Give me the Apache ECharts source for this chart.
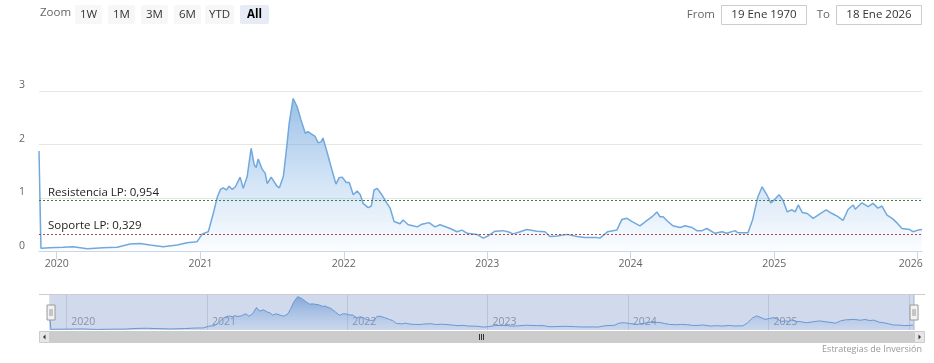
<!DOCTYPE html>
<html>
<head>
<meta charset="utf-8">
<script src="https://cdn.jsdelivr.net/npm/echarts@6/dist/echarts.min.js"></script>
<style>
html,body{margin:0;padding:0;background:#fff;}
#chart{width:934px;height:363px;}
</style>
</head>
<body>
<div id="chart"></div>
<script>
// ---- Data ----
const dates = [
'2019-11-17','2019-11-22','2019-12-15','2020-01-17','2020-02-12','2020-03-19','2020-04-28','2020-06-03','2020-07-06','2020-07-31',
'2020-08-26','2020-09-28','2020-11-03','2020-11-28','2020-12-23','2021-01-06','2021-01-21','2021-02-03','2021-02-13','2021-02-21',
'2021-02-28','2021-03-08','2021-03-15','2021-03-23','2021-03-31','2021-04-05','2021-04-12','2021-04-20','2021-04-30','2021-05-10',
'2021-05-18','2021-05-23','2021-05-28','2021-06-07','2021-06-15','2021-06-20','2021-06-30','2021-07-05','2021-07-15','2021-07-21',
'2021-07-31','2021-08-07','2021-08-15','2021-08-25','2021-08-30','2021-09-04','2021-09-14','2021-09-25','2021-10-02','2021-10-10',
'2021-10-20','2021-10-28','2021-11-04','2021-11-09','2021-11-20','2021-12-02','2021-12-12','2021-12-20','2021-12-28','2022-01-07',
'2022-01-15','2022-01-25','2022-02-04','2022-02-12','2022-02-19','2022-03-04','2022-03-12','2022-03-19','2022-03-27','2022-04-08',
'2022-04-21','2022-04-29','2022-05-09','2022-05-24','2022-06-01','2022-06-14','2022-06-26','2022-07-07','2022-07-19','2022-08-06',
'2022-08-21','2022-09-03','2022-09-29','2022-10-16','2022-10-29','2022-11-11','2022-12-06','2022-12-22','2023-01-03','2023-01-21',
'2023-02-10','2023-02-23','2023-03-08','2023-03-26','2023-04-12','2023-05-08','2023-05-28','2023-06-10','2023-06-28','2023-07-23',
'2023-08-18','2023-09-07','2023-10-07','2023-10-15','2023-11-04','2023-11-27','2023-12-10','2023-12-23','2024-01-05','2024-01-25',
'2024-02-12','2024-02-25','2024-03-08','2024-03-16','2024-03-24','2024-04-05','2024-04-18','2024-05-06','2024-05-19','2024-06-05',
'2024-06-18','2024-07-01','2024-07-13','2024-08-03','2024-08-21','2024-09-02','2024-09-23','2024-09-30','2024-10-26','2024-11-07',
'2024-11-20','2024-12-01','2024-12-13','2024-12-23','2025-01-03','2025-01-13','2025-01-23','2025-02-03','2025-02-15','2025-02-23',
'2025-03-03','2025-03-13','2025-03-26','2025-04-10','2025-04-28','2025-05-13','2025-05-28','2025-06-10','2025-06-25','2025-07-08',
'2025-07-21','2025-07-26','2025-08-12','2025-08-28','2025-09-09','2025-09-22','2025-10-02','2025-10-15','2025-10-28','2025-11-10',
'2025-11-22','2025-12-12','2025-12-20','2026-01-02','2026-01-12'
];
const values = [
1.88,0.06,0.07,0.08,0.09,0.05,0.07,0.08,0.14,0.15,
0.12,0.09,0.12,0.165,0.18,0.33,0.37,0.72,1.02,1.16,
1.19,1.15,1.22,1.16,1.21,1.24,1.39,1.18,1.40,1.93,
1.62,1.57,1.73,1.54,1.46,1.27,1.39,1.37,1.22,1.19,
1.40,1.84,2.40,2.86,2.89,2.71,2.46,2.21,2.24,2.20,
2.15,2.03,2.05,2.12,1.84,1.52,1.26,1.38,1.39,1.29,
1.29,1.06,1.13,1.06,0.90,0.82,0.85,1.15,1.18,1.06,
0.90,0.81,0.56,0.52,0.59,0.50,0.48,0.46,0.51,0.54,
0.46,0.50,0.43,0.37,0.40,0.34,0.32,0.25,0.29,0.38,
0.39,0.37,0.33,0.37,0.41,0.38,0.37,0.28,0.29,0.32,
0.28,0.26,0.26,0.25,0.37,0.40,0.60,0.62,0.56,0.48,
0.58,0.65,0.74,0.65,0.65,0.56,0.48,0.45,0.48,0.45,
0.39,0.39,0.43,0.34,0.37,0.34,0.39,0.35,0.35,0.60,
1.02,1.21,1.06,0.91,0.98,1.06,0.96,0.74,0.78,0.74,
0.87,0.73,0.71,0.62,0.71,0.78,0.71,0.66,0.58,0.79,
0.87,0.79,0.91,0.84,0.90,0.81,0.85,0.68,0.62,0.53,
0.43,0.41,0.37,0.40,0.41
];
const resistance = 0.954;
const support = 0.329;
const resistanceLabel = 'Resistencia LP: 0,954';
const supportLabel = 'Soporte LP: 0,329';
const yTicks = [0, 1, 2, 3];
const zoomButtons = ['1W', '1M', '3M', '6M', 'YTD', 'All'];
const fromText = '19 Ene 1970';
const toText = '18 Ene 2026';
const creditText = 'Estrategias de Inversión';

// ---- Build ----
function toTs(s) { const p = s.split('-').map(Number); return new Date(p[0], p[1] - 1, p[2]).getTime(); }
const seriesData = dates.map((d, i) => [toTs(d), values[i]]);
const xMin = toTs(dates[0]);
const xMax = toTs(dates[dates.length - 1]);
const FONT = "'Open Sans', sans-serif";
const YEAR = 365 * 24 * 3600 * 1000;

const btnX = [75, 108, 141, 174, 205, 240];
const btnW = [27, 27, 27, 27, 29, 29];
const graphics = [];
graphics.push({ type: 'text', left: 40, top: 7, style: { text: 'Zoom', fill: '#666666', font: '11.5px ' + FONT } });
zoomButtons.forEach((b, i) => {
  const sel = b === 'All';
  graphics.push({ type: 'rect', shape: { x: btnX[i], y: 5, width: btnW[i], height: 19, r: 2 }, style: { fill: sel ? '#e6ebf5' : '#f7f7f7' } });
  graphics.push({ type: 'text', style: { x: btnX[i] + btnW[i] / 2, y: 14.5, text: b, align: 'center', verticalAlign: 'middle', fill: sel ? '#000000' : '#333333', font: (sel ? 'bold ' : '') + '11.5px ' + FONT } });
});
graphics.push({ type: 'text', style: { x: 715, y: 15, text: 'From', align: 'right', verticalAlign: 'middle', fill: '#666666', font: '11.5px ' + FONT } });
graphics.push({ type: 'rect', shape: { x: 721.5, y: 5.5, width: 85, height: 19 }, style: { fill: '#ffffff', stroke: '#cccccc', lineWidth: 1 } });
graphics.push({ type: 'text', style: { x: 764, y: 15, text: fromText, align: 'center', verticalAlign: 'middle', fill: '#333333', font: '11.5px ' + FONT } });
graphics.push({ type: 'text', style: { x: 830, y: 15, text: 'To', align: 'right', verticalAlign: 'middle', fill: '#666666', font: '11.5px ' + FONT } });
graphics.push({ type: 'rect', shape: { x: 836.5, y: 5.5, width: 85, height: 19 }, style: { fill: '#ffffff', stroke: '#cccccc', lineWidth: 1 } });
graphics.push({ type: 'text', style: { x: 879, y: 15, text: toText, align: 'center', verticalAlign: 'middle', fill: '#333333', font: '11.5px ' + FONT } });
// scrollbar
graphics.push({ type: 'rect', shape: { x: 39, y: 331, width: 886, height: 12 }, style: { fill: '#f2f2f2' } });
graphics.push({ type: 'rect', shape: { x: 50, y: 331, width: 864, height: 12 }, style: { fill: '#cccccc' } });
graphics.push({ type: 'rect', shape: { x: 39.5, y: 331.5, width: 10, height: 11 }, style: { fill: '#e6e6e6', stroke: '#cccccc' } });
graphics.push({ type: 'rect', shape: { x: 914.5, y: 331.5, width: 10, height: 11 }, style: { fill: '#e6e6e6', stroke: '#cccccc' } });
graphics.push({ type: 'polygon', shape: { points: [[45.5, 334.5], [45.5, 339.5], [43, 337]] }, style: { fill: '#333333' } });
graphics.push({ type: 'polygon', shape: { points: [[918.5, 334.5], [918.5, 339.5], [921, 337]] }, style: { fill: '#333333' } });
[479.5, 481.5, 483.5].forEach(x => graphics.push({ type: 'line', shape: { x1: x, y1: 334, x2: x, y2: 340 }, style: { stroke: '#333333', lineWidth: 1 } }));
// navigator outline
graphics.push({ type: 'line', shape: { x1: 39, y1: 294.5, x2: 925, y2: 294.5 }, style: { stroke: '#cccccc', lineWidth: 1 } });
graphics.push({ type: 'text', style: { x: 922, y: 349, text: creditText, align: 'right', verticalAlign: 'middle', fill: '#999999', font: '9px ' + FONT } });

const option = {
  animation: false,
  textStyle: { fontFamily: FONT },
  grid: [
    { left: 39, right: 12, top: 91, bottom: 111.5 },
    { left: 49, right: 21, top: 295, height: 35 }
  ],
  xAxis: [
    {
      type: 'time', gridIndex: 0, min: xMin, max: xMax,
      minInterval: YEAR, maxInterval: YEAR * 1.01,
      axisLine: { lineStyle: { color: '#ccd6eb' } },
      axisTick: { show: true, length: 8, lineStyle: { color: '#ccd6eb' } },
      splitLine: { show: false },
      axisLabel: {
        color: '#666666', fontSize: 10.5, margin: 7, hideOverlap: false,
        formatter: function (v) { const y = new Date(v).getFullYear(); return y === 2026 ? '{r|' + y + '}' : String(y); },
        rich: { r: { color: '#666666', fontSize: 10.5, padding: [0, 14, 0, 0] } }
      }
    },
    {
      type: 'time', gridIndex: 1, min: xMin, max: xMax,
      minInterval: YEAR, maxInterval: YEAR * 1.01,
      axisLine: { show: false }, axisTick: { show: false },
      splitLine: { show: true, lineStyle: { color: '#e0e0e0' } },
      axisLabel: {
        inside: true, color: '#999999', fontSize: 10.5, align: 'left', margin: 2, padding: [0, 0, 0, 5],
        formatter: function (v) { const y = new Date(v).getFullYear(); return y === 2026 ? '' : String(y); }
      }
    }
  ],
  yAxis: [
    {
      type: 'value', gridIndex: 0, min: yTicks[0], max: yTicks[yTicks.length - 1], interval: 1,
      axisLine: { show: false }, axisTick: { show: false },
      splitLine: { lineStyle: { color: '#e6e6e6' } },
      axisLabel: { color: '#666666', fontSize: 10.5, margin: 14, verticalAlign: 'bottom' }
    },
    { type: 'value', gridIndex: 1, min: 0, max: 3, show: false, splitLine: { show: false } }
  ],
  dataZoom: [{
    type: 'slider', xAxisIndex: 1, filterMode: 'none', start: 0, end: 100,
    left: 49, right: 20, top: 295, height: 35,
    showDataShadow: false, showDetail: false, brushSelect: false, moveHandleSize: 0,
    backgroundColor: 'rgba(0,0,0,0)', borderColor: 'rgba(0,0,0,0)',
    fillerColor: 'rgba(102,133,194,0.3)',
    handleIcon: 'path://M0,0 L8,0 L8,15 L0,15 Z M3,4 L3,11 M5,4 L5,11',
    handleSize: 15,
    handleStyle: { color: '#f2f2f2', borderColor: '#999999', borderWidth: 1 },
    emphasis: { handleStyle: { color: '#f2f2f2', borderColor: '#999999' } }
  }],
  series: [
    {
      type: 'line', xAxisIndex: 0, yAxisIndex: 0, data: seriesData,
      symbol: 'none', smooth: false,
      lineStyle: { color: '#72a9dd', width: 1.5 },
      itemStyle: { color: '#72a9dd' },
      areaStyle: {
        color: new echarts.graphic.LinearGradient(0, 0, 0, 1, [
          { offset: 0, color: 'rgba(104,158,216,0.95)' },
          { offset: 1, color: 'rgba(124,181,236,0.04)' }
        ])
      },
      markLine: {
        silent: true, symbol: ['none', 'none'],
        data: [
          {
            yAxis: resistance,
            lineStyle: { color: '#3f7f3f', type: [2, 2], width: 1 },
            label: { formatter: resistanceLabel, position: 'insideStartTop', color: '#222222', fontSize: 11.5, distance: [9, 2] }
          },
          {
            yAxis: support,
            lineStyle: { color: '#a84848', type: [2, 2], width: 1 },
            label: { formatter: supportLabel, position: 'insideStartTop', color: '#222222', fontSize: 11.5, distance: [9, 2] }
          }
        ]
      }
    },
    {
      type: 'line', xAxisIndex: 1, yAxisIndex: 1, data: seriesData,
      symbol: 'none', smooth: false,
      lineStyle: { color: '#6a9fd8', width: 1 },
      areaStyle: {
        color: new echarts.graphic.LinearGradient(0, 0, 0, 1, [
          { offset: 0, color: 'rgba(80,140,210,0.9)' },
          { offset: 1, color: 'rgba(124,181,236,0.1)' }
        ])
      }
    }
  ],
  graphic: graphics
};
const chart = echarts.init(document.getElementById('chart'));
chart.setOption(option);
</script>
</body>
</html>
